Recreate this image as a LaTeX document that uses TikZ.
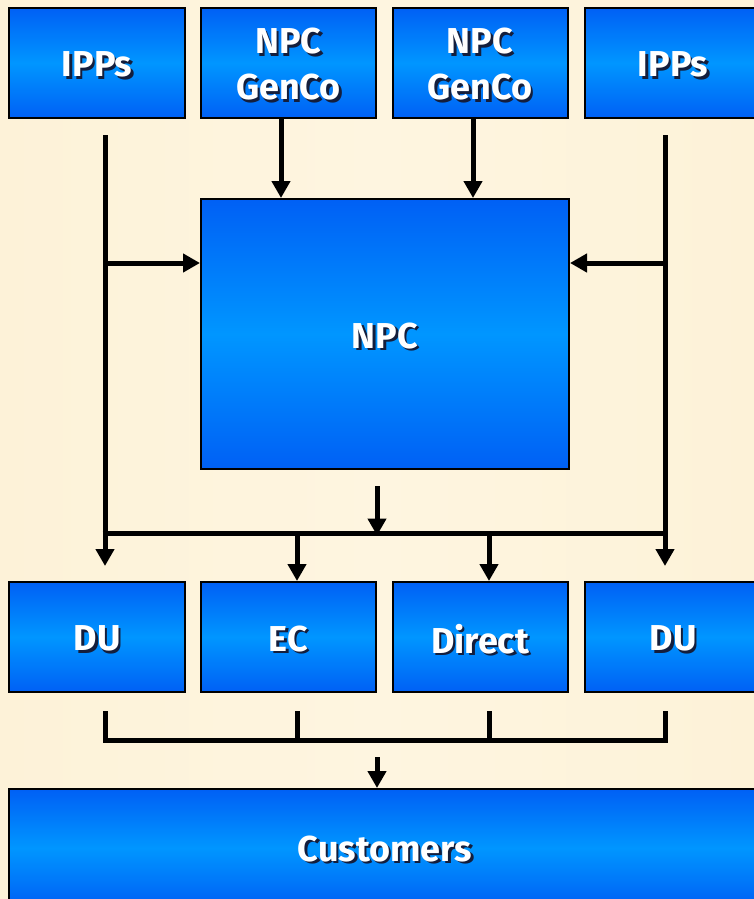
\documentclass[tikz,border=0pt]{standalone}
\usepackage{fontspec}
\setsansfont{Fira Sans}
\usetikzlibrary{arrows.meta,calc}
\definecolor{bg}{RGB}{253,242,216}
\definecolor{bglight}{RGB}{254,245,224}
\definecolor{boxdark}{RGB}{0,96,245}
\definecolor{boxlight}{RGB}{0,150,255}
\definecolor{shadowc}{RGB}{20,30,60}
\newcommand\sh[1]{\makebox[0pt][l]{\raisebox{-2.5pt}{\hspace{2.5pt}\textcolor{shadowc}{#1}}}#1}
\newcommand\twol[2]{\begin{tabular}{@{}c@{}}#1\\#2\end{tabular}}
\tikzset{
  bx/.style={draw=black, line width=2pt, inner sep=0pt, rectangle,
    top color=boxdark, bottom color=boxdark, middle color=boxlight},
  txt/.style={inner sep=0pt, text=white, font=\fontsize{36}{46}\selectfont\sffamily\bfseries, align=center},
  ln/.style={line width=5pt, line cap=butt},
  arr/.style={line width=5pt, -{Triangle[length=17pt,width=18pt]}},
}
\begin{document}
\begin{tikzpicture}[x=1pt,y=-1pt]
\fill[bg] (0,0) rectangle (754,899);
\shade[left color=bg, right color=bglight] (0,0) rectangle (377,899);
\shade[left color=bglight, right color=bg] (377,0) rectangle (754,899);
\clip (0,0) rectangle (754,899);
% top row
\node[bx, minimum width=176pt, minimum height=110pt] (ippL) at (97,63) {};
\node[bx, minimum width=175pt, minimum height=110pt] (gen1) at (288.5,63) {};
\node[bx, minimum width=175pt, minimum height=110pt] (gen2) at (480,63) {};
\node[bx, minimum width=176pt, minimum height=110pt] (ippR) at (673,63) {};
\node[txt] (tippL) at ([yshift=-3pt]ippL.center) {\sh{IPPs}};
\node[txt] (tgen1) at ([yshift=-6pt]gen1.center) {\sh{\twol{NPC}{GenCo}}};
\node[txt] (tgen2) at ([yshift=-6pt]gen2.center) {\sh{\twol{NPC}{GenCo}}};
\node[txt] (tippR) at ([yshift=-3pt]ippR.center) {\sh{IPPs}};
% NPC
\node[bx, minimum width=368pt, minimum height=270pt] (npc) at (385,334) {};
\node[txt] (tnpc) at ([yshift=-3pt]npc.center) {\sh{NPC}};
% middle row
\node[bx, minimum width=176pt, minimum height=110pt] (du1) at (97,637) {};
\node[bx, minimum width=175pt, minimum height=110pt] (ec) at (288.5,637) {};
\node[bx, minimum width=175pt, minimum height=110pt] (dir) at (480,637) {};
\node[bx, minimum width=176pt, minimum height=110pt] (du2) at (673,637) {};
\node[txt] (tdu1) at ([yshift=-3pt]du1.center) {\sh{DU}};
\node[txt] (tec) at ([yshift=-3pt]ec.center) {\sh{EC}};
\node[txt] (tdir) at ([yshift=-3pt]dir.center) {\sh{Direct}};
\node[txt] (tdu2) at ([yshift=-3pt]du2.center) {\sh{DU}};
% customers
\node[bx, minimum width=752pt, minimum height=118pt] (cust) at (385,848) {};
\node[txt] (tcust) at ([yshift=-2pt]cust.center) {\sh{Customers}};
% coordinates
\coordinate (lt) at (105,135);
\coordinate (lm) at (105,263);
\coordinate (lj) at (105,533);
\coordinate (lb) at (105,566);
\coordinate (rt) at (665,135);
\coordinate (rm) at (665,263);
\coordinate (rj) at (665,533);
\coordinate (rb) at (665,566);
\coordinate (g1t) at (281,119);
\coordinate (g2t) at (473,119);
\coordinate (nb) at (377,486);
\coordinate (ecj) at (297,533);
\coordinate (drj) at (489,533);
% connectors
\draw[arr] (lt) -- (lb);
\draw[arr] (rt) -- (rb);
\draw[arr] (lm) -- (lm -| npc.west);
\draw[arr] (rm) -- (rm -| npc.east);
\draw[arr] (g1t) -- (g1t |- npc.north);
\draw[arr] (g2t) -- (g2t |- npc.north);
\draw[ln] ([xshift=-2.5]lj) -- ([xshift=2.5]rj);
\draw[arr] (nb) -- ([yshift=-2.5]nb |- lj);
\draw[arr] ([yshift=-2.5]ecj) -- (ecj |- ec.north);
\draw[arr] ([yshift=-2.5]drj) -- (drj |- dir.north);
% bottom collector
\coordinate (b1) at (105,711);
\coordinate (b2) at (297,711);
\coordinate (b3) at (489,711);
\coordinate (b4) at (665,711);
\coordinate (bj1) at (105,740);
\coordinate (bj4) at (665,740);
\coordinate (ca) at (377,757);
\draw[ln, line join=miter] (b1) -- (bj1) -- (bj4) -- (b4);
\draw[ln] (b2) -- (b2 |- bj1);
\draw[ln] (b3) -- (b3 |- bj1);
\draw[arr] (ca) -- (ca |- cust.north);
\end{tikzpicture}
\end{document}
